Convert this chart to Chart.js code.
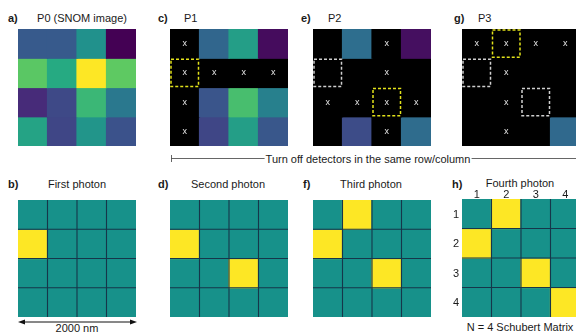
<!DOCTYPE html>
<html><head><meta charset="utf-8">
<script src="https://cdn.jsdelivr.net/npm/chart.js@4.4.0/dist/chart.umd.min.js"></script>
<style>
html,body{margin:0;padding:0;background:#fff;width:576px;height:334px;overflow:hidden;position:relative;font-family:'Liberation Sans',Arial,sans-serif;color:#1a1a1a}
canvas{position:absolute}
.t{position:absolute;font-size:11px;white-space:nowrap;line-height:12px;height:12px}
.c{transform:translateX(-50%)}
.m{transform:translate(-50%,-50%)}
.b{font-weight:bold}
svg{position:absolute;left:0;top:0}
</style></head><body>
<svg width="576" height="334">
  <line x1="171" y1="158.5" x2="576" y2="158.5" stroke="#555" stroke-width="0.9"/>
  <line x1="171.5" y1="155" x2="171.5" y2="162" stroke="#555" stroke-width="0.9"/>
  <line x1="22" y1="322" x2="133" y2="322" stroke="#111" stroke-width="1"/>
  <polygon points="18,322 25,319.5 25,324.5" fill="#111"/>
  <polygon points="137,322 130,319.5 130,324.5" fill="#111"/>
</svg>
<div class="t b" style="left:8px;top:12px">a)</div>
<div class="t c" style="left:82px;top:12px">P0 (SNOM image)</div>
<div class="t b" style="left:158px;top:12px">c)</div>
<div class="t" style="left:184px;top:12px">P1</div>
<div class="t b" style="left:301px;top:12px">e)</div>
<div class="t" style="left:328px;top:12px">P2</div>
<div class="t b" style="left:454px;top:12px">g)</div>
<div class="t" style="left:478px;top:12px">P3</div>
<div class="t c" style="left:368px;top:153px;background:#fff;padding:0 1px">Turn off detectors in the same row/column</div>
<div class="t b" style="left:8px;top:178px">b)</div>
<div class="t c" style="left:77px;top:178px">First photon</div>
<div class="t b" style="left:158px;top:178px">d)</div>
<div class="t c" style="left:228px;top:178px">Second photon</div>
<div class="t b" style="left:303px;top:178px">f)</div>
<div class="t c" style="left:371px;top:178px">Third photon</div>
<div class="t b" style="left:452px;top:178px">h)</div>
<div class="t c" style="left:520px;top:177px">Fourth photon</div>
<div class="t c" style="left:77px;top:322px">2000 nm</div>
<div class="t c" style="left:520px;top:321px">N = 4 Schubert Matrix</div>

<canvas id="a" width="118" height="117" style="left:18px;top:29px"></canvas>
<canvas id="c" width="118" height="117" style="left:170px;top:29px"></canvas>
<canvas id="e" width="118" height="117" style="left:313px;top:29px"></canvas>
<canvas id="g" width="118" height="117" style="left:462px;top:29px"></canvas>
<canvas id="b" width="118" height="117" style="left:18px;top:200px"></canvas>
<canvas id="d" width="118" height="117" style="left:170px;top:200px"></canvas>
<canvas id="f" width="118" height="117" style="left:313px;top:200px"></canvas>
<canvas id="h" width="118" height="118" style="left:462px;top:199px"></canvas>

<script>
// ---- data ----
const colLabels = ['1','2','3','4'];
const rowLabels = ['1','2','3','4'];
// SNOM intensity (0..1) per detector, rows top->bottom
const P0 = [[0.28,0.28,0.50,0.00],[0.74,0.61,1.00,0.75],[0.12,0.22,0.67,0.40],[0.58,0.21,0.52,0.25]];
const P1 = [[null,0.33,0.56,0.03],[null,null,null,null],[null,0.26,0.70,0.43],[null,0.21,0.56,0.27]];
const P2 = [[null,0.36,null,0.04],[null,null,null,null],[null,null,null,null],[null,0.23,null,0.35]];
const P3 = [[null,null,null,null],[null,null,null,null],[null,null,null,null],[null,null,null,0.34]];
// detectors marked "x" (turned off) at each step
const P1_off = [[1,0,0,0],[1,1,1,1],[1,0,0,0],[1,0,0,0]];
const P2_off = [[0,0,1,0],[0,0,1,0],[1,1,1,1],[0,0,1,0]];
const P3_off = [[1,1,1,1],[0,1,0,0],[0,1,0,0],[0,1,0,0]];
// detected photon positions in order (row index, column index)
const photonRow = [1,2,0,3];
const photonCol = [0,2,1,3];

// ---- styling helpers ----
const VIR = ['#440154','#472d7b','#3b528b','#2c728e','#21918c','#27ad81','#5ec962','#aadc32','#fde725'];
function hex2rgb(h){return [1,3,5].map(i=>parseInt(h.substr(i,2),16));}
function viridis(v){
  if(v===null||v===undefined) return '#000000';
  const t=Math.max(0,Math.min(1,v))*8; const i=Math.min(7,Math.floor(t)); const f=t-i;
  const a=hex2rgb(VIR[i]), b=hex2rgb(VIR[i+1]);
  return 'rgb('+a.map((x,k)=>Math.round(x+(b[k]-x)*f)).join(',')+')';
}
const TEAL='#17918a', YEL='#fde725';

const overlay = {
  id:'overlay',
  afterDatasetsDraw(chart, args, o){
    const ctx=chart.ctx, x=chart.scales.x, y=chart.scales.y;
    const w=x.getPixelForValue(1)-x.getPixelForValue(0);
    const cell=(r,c)=>{const t=y.getPixelForValue(r), b=y.getPixelForValue(r+1); return {l:x.getPixelForValue(c)-w/2, t:t, w:w, h:b-t};};
    ctx.save();
    if(o.gridLines){
      ctx.strokeStyle='#16364a'; ctx.lineWidth=1.1;
      for(let c=1;c<colLabels.length;c++){const px=x.getPixelForValue(c)-w/2; ctx.beginPath(); ctx.moveTo(px,chart.chartArea.top); ctx.lineTo(px,chart.chartArea.bottom); ctx.stroke();}
      for(let r=1;r<rowLabels.length;r++){const py=y.getPixelForValue(r); ctx.beginPath(); ctx.moveTo(chart.chartArea.left,py); ctx.lineTo(chart.chartArea.right,py); ctx.stroke();}
    }
    if(o.off){
      ctx.fillStyle='#e6e6e6'; ctx.font='9px "Liberation Sans", Arial, sans-serif'; ctx.textAlign='center'; ctx.textBaseline='middle';
      o.off.forEach((row,r)=>row.forEach((m,c)=>{ if(m){const q=cell(r,c); ctx.fillText('x', q.l+q.w/2, q.t+q.h/2);} }));
    }
    const box=(r,c,col)=>{const q=cell(r,c); ctx.strokeStyle=col; ctx.lineWidth=1.5; ctx.setLineDash([3,2]); ctx.strokeRect(q.l+1,q.t+1,q.w-2,q.h-2);};
    (o.prev||[]).forEach(k=>box(photonRow[k],photonCol[k],'#cfcfcf'));
    if(o.sel!==undefined) box(photonRow[o.sel],photonCol[o.sel],'#e2e21a');
    ctx.restore();
  }
};

function gridChart(id, colorGrid, ov){
  const datasets = rowLabels.map((r,ri)=>({
    data: colLabels.map(()=>1),
    backgroundColor: colorGrid[ri],
    borderWidth:0, barPercentage:1, categoryPercentage:1, inflateAmount:0.6
  }));
  return new Chart(document.getElementById(id), {
    type:'bar',
    data:{labels:colLabels, datasets},
    options:{responsive:false, animation:false, devicePixelRatio:1,
      layout:{padding:0},
      plugins:{legend:{display:false}, tooltip:{enabled:false}, overlay:ov},
      scales:{
        x:{type:'category', labels:colLabels, stacked:true, display:false},
        y:{type:'linear', stacked:true, min:0, max:rowLabels.length, reverse:true, display:false}
      }},
    plugins:[overlay]
  });
}

const toColors = M => M.map(row=>row.map(viridis));
gridChart('a', toColors(P0), {});
gridChart('c', toColors(P1), {off:P1_off, sel:0});
gridChart('e', toColors(P2), {off:P2_off, sel:1, prev:[0]});
gridChart('g', toColors(P3), {off:P3_off, sel:2, prev:[0,1]});

function photonColors(n){
  return rowLabels.map((r,ri)=>colLabels.map((c,ci)=>{
    for(let k=0;k<n;k++) if(photonRow[k]===ri && photonCol[k]===ci) return YEL;
    return TEAL;
  }));
}
gridChart('b', photonColors(1), {gridLines:true});
gridChart('d', photonColors(2), {gridLines:true});
gridChart('f', photonColors(3), {gridLines:true});
const hc = gridChart('h', photonColors(4), {gridLines:true});

// matrix index labels placed from the chart's own scales
(function(){
  const cv=document.getElementById('h'); const L=parseFloat(cv.style.left), T=parseFloat(cv.style.top);
  const x=hc.scales.x, y=hc.scales.y;
  colLabels.forEach((lab,i)=>{
    const d=document.createElement('div'); d.className='t m'; d.textContent=lab;
    d.style.left=(L+x.getPixelForValue(i))+'px'; d.style.top=(T-5)+'px'; document.body.appendChild(d);
  });
  rowLabels.forEach((lab,i)=>{
    const d=document.createElement('div'); d.className='t m'; d.textContent=lab;
    d.style.left=(L-6)+'px'; d.style.top=(T+(y.getPixelForValue(i)+y.getPixelForValue(i+1))/2)+'px'; document.body.appendChild(d);
  });
})();
</script>
</body></html>
